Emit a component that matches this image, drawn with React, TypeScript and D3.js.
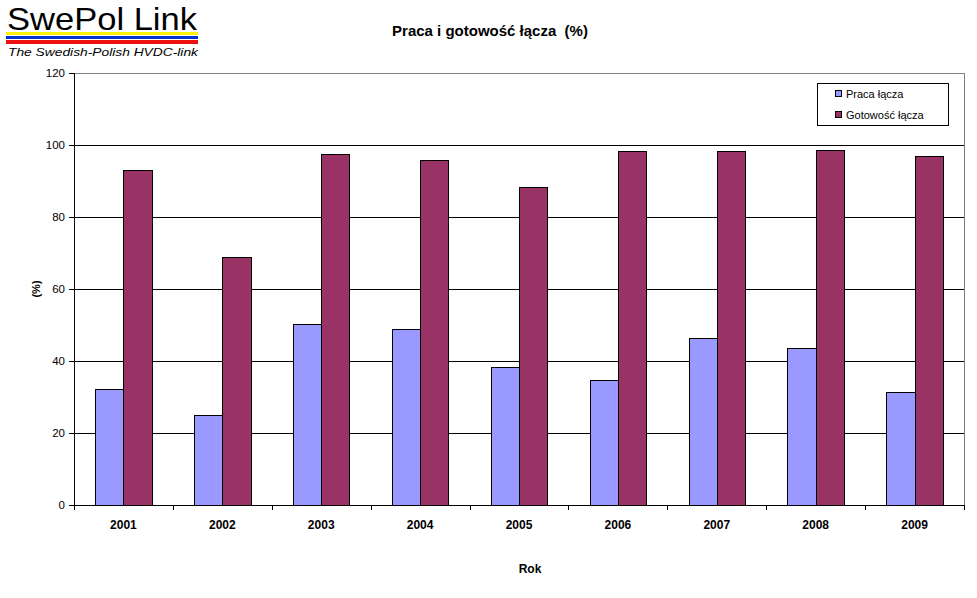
import React from "react";
import * as d3 from "d3";

const years = ["2001", "2002", "2003", "2004", "2005", "2006", "2007", "2008", "2009"];
const praca = [32.1, 24.9, 50.2, 48.8, 38.2, 34.7, 46.3, 43.5, 31.3];
const gotowosc = [93.0, 68.8, 97.4, 95.7, 88.2, 98.2, 98.2, 98.5, 96.9];
const seriesNames = ["Praca łącza", "Gotowość łącza"];
const seriesColors = ["#9999FF", "#993366"];
const yTicks = [0, 20, 40, 60, 80, 100, 120];

const W = 977;
const H = 598;
const left = 74;
const right = 964;
const top = 73;
const bottom = 505;
const font = "Arial, 'Liberation Sans', sans-serif";

export default function App() {
  const x = d3.scaleBand<string>().domain(years).range([left, right]).paddingInner(0).paddingOuter(0);
  const y = d3.scaleLinear().domain([0, 120]).range([bottom, top]);
  const bw = x.bandwidth() / 3.5;
  const series = [praca, gotowosc];

  return (
    <svg width={W} height={H} style={{ position: "absolute", left: 0, top: 0, background: "#fff" }}>
      <rect x={0} y={0} width={W} height={H} fill="#fff" />
      {/* logo */}
      <text x={7} y={30} fontFamily={font} fontSize={32} fill="#000" textLength={190} lengthAdjust="spacingAndGlyphs">SwePol Link</text>
      <rect x={6} y={32} width={192} height={3} fill="#FFF200" />
      <rect x={6} y={36} width={192} height={3} fill="#0033CC" />
      <rect x={6} y={40} width={192} height={4} fill="#EE1111" />
      <text x={8} y={56} fontFamily={font} fontSize={11.5} fontStyle="italic" fill="#000" textLength={190} lengthAdjust="spacingAndGlyphs">The Swedish-Polish HVDC-link</text>

      {/* title */}
      <text x={490} y={36} textAnchor="middle" fontFamily={font} fontSize={15} fontWeight="bold" style={{ whiteSpace: "pre" }}>Praca i gotowość łącza  (%)</text>

      {/* plot border (top/right gray) */}
      <line x1={left} x2={right} y1={top + 0.5} y2={top + 0.5} stroke="#808080" />
      <line x1={right + 0.5} x2={right + 0.5} y1={top} y2={bottom} stroke="#808080" />

      {/* gridlines */}
      {yTicks.filter(t => t > 0 && t < 120).map(t => (
        <line key={t} x1={left} x2={right} y1={Math.round(y(t)) + 0.5} y2={Math.round(y(t)) + 0.5} stroke="#000" />
      ))}

      {/* bars */}
      {years.map((yr, i) => (
        <g key={yr}>
          {series.map((s, si) => {
            const x0 = (x(yr) as number) + 0.75 * bw + si * bw;
            const yv = y(s[i]);
            return (
              <rect key={si} x={Math.round(x0) + 0.5} y={Math.round(yv) + 0.5}
                width={Math.round(x0 + bw) - Math.round(x0)} height={bottom - Math.round(yv)}
                fill={seriesColors[si]} stroke="#000" strokeWidth={1} />
            );
          })}
        </g>
      ))}

      {/* axes */}
      <line x1={left + 0.5} x2={left + 0.5} y1={top} y2={bottom + 1} stroke="#000" />
      <line x1={left} x2={right + 1} y1={bottom + 0.5} y2={bottom + 0.5} stroke="#000" />
      {yTicks.map(t => (
        <g key={t}>
          <line x1={left - 5} x2={left} y1={Math.round(y(t)) + 0.5} y2={Math.round(y(t)) + 0.5} stroke="#000" />
          <text x={left - 9} y={y(t) + 4} textAnchor="end" fontFamily={font} fontSize={11.5}>{t}</text>
        </g>
      ))}
      {years.map(yr => (
        <line key={"t" + yr} x1={Math.round(x(yr) as number) + 0.5} x2={Math.round(x(yr) as number) + 0.5} y1={bottom} y2={bottom + 5} stroke="#000" />
      ))}
      <line x1={right + 0.5} x2={right + 0.5} y1={bottom} y2={bottom + 5} stroke="#000" />
      {years.map(yr => (
        <text key={"l" + yr} x={(x(yr) as number) + x.bandwidth() / 2} y={529} textAnchor="middle" fontFamily={font} fontSize={12} fontWeight="bold">{yr}</text>
      ))}

      {/* axis titles */}
      <text x={530} y={573} textAnchor="middle" fontFamily={font} fontSize={12} fontWeight="bold">Rok</text>
      <text transform={`translate(40,${(top + bottom) / 2}) rotate(-90)`} textAnchor="middle" fontFamily={font} fontSize={11} fontWeight="bold">(%)</text>

      {/* legend */}
      <rect x={817.5} y={83.5} width={131} height={42} fill="#fff" stroke="#000" />
      {seriesNames.map((n, i) => (
        <g key={n}>
          <rect x={835.5} y={90.5 + i * 21} width={6} height={6} fill={seriesColors[i]} stroke="#000" />
          <text x={846} y={98 + i * 21} fontFamily={font} fontSize={11}>{n}</text>
        </g>
      ))}
    </svg>
  );
}
